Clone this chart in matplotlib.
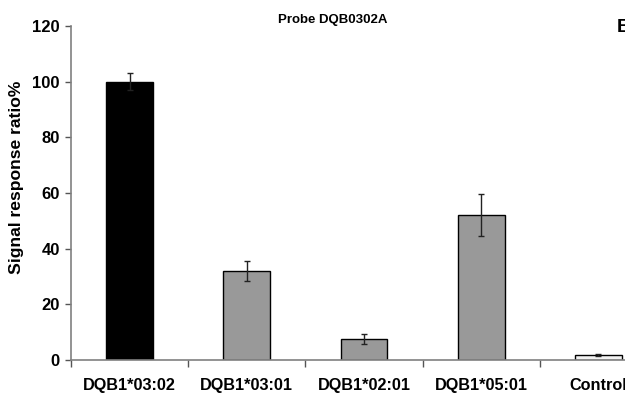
import matplotlib.pyplot as plt
from matplotlib.ticker import FixedLocator

plt.rcParams['font.family'] = ['Liberation Sans', 'DejaVu Sans']

categories = ['DQB1*03:02', 'DQB1*03:01', 'DQB1*02:01', 'DQB1*05:01', 'Control']
values = [100, 32, 7.5, 52, 1.8]
errors = [3, 3.6, 1.8, 7.6, 0.2]
colors = ['#000000', '#999999', '#999999', '#999999', '#f2f2f2']
yticks = [0, 20, 40, 60, 80, 100, 120]

fig = plt.figure(figsize=(6.25, 3.94), dpi=100)
ax = fig.add_axes([71 / 625, 1 - 360 / 394, 586 / 625, 334 / 394])

x = list(range(len(categories)))
ax.bar(x, values, width=0.4, color=colors, edgecolor='#000000', linewidth=1, zorder=2)
ax.errorbar(x, values, yerr=errors, fmt='none', ecolor='#222222', elinewidth=1,
            capsize=2.5, capthick=1, zorder=3)

ax.set_xlim(-0.5, len(categories) - 0.5)
ax.set_ylim(0, 120)
ax.set_yticks(yticks)
ax.set_yticklabels([str(v) for v in yticks], fontsize=12, fontweight='bold')

# ticks between the bars, labels under the bars
ax.xaxis.set_major_locator(FixedLocator([i - 0.5 for i in range(len(categories) + 1)]))
ax.xaxis.set_minor_locator(FixedLocator(x))
ax.set_xticklabels([], minor=False)
ax.set_xticklabels(categories, minor=True, fontsize=11.7, fontweight='bold')
ax.tick_params(axis='x', which='major', length=5, width=1, color='#555555', direction='out')
ax.tick_params(axis='x', which='minor', length=0, pad=13)
ax.tick_params(axis='y', length=4, width=1, color='#555555', pad=4)

for side in ['top', 'right']:
    ax.spines[side].set_visible(False)
for side in ['left', 'bottom']:
    ax.spines[side].set_color('#808080')
    ax.spines[side].set_linewidth(1.2)

fig.text(17 / 625, 1 - 177 / 394, 'Signal response ratio%', rotation=90, ha='center',
         va='center', fontsize=12.6, fontweight='bold')
fig.text(333 / 625, 1 - 20 / 394, 'Probe DQB0302A', ha='center', va='center',
         fontsize=9.5, fontweight='bold')
fig.text(617 / 625, 1 - 32 / 394, 'B', ha='left', va='baseline', fontsize=14, fontweight='bold')

fig.savefig('out.png', dpi=100)
